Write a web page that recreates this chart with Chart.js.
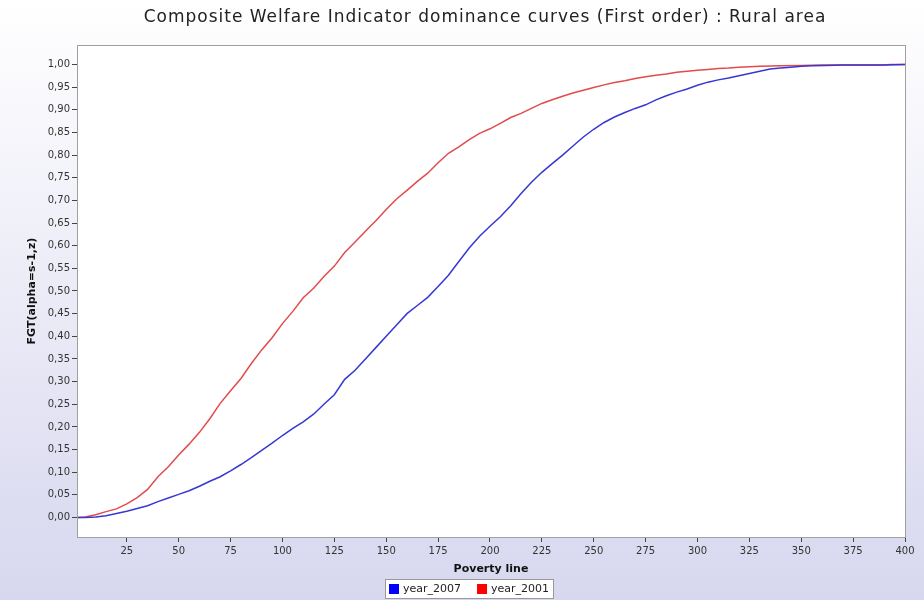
<!DOCTYPE html>
<html>
<head>
<meta charset="utf-8">
<script src="https://cdn.jsdelivr.net/npm/chart.js@4.4.0/dist/chart.umd.min.js"></script>
<style>
  html, body { margin: 0; padding: 0; background: #fff; }
  #wrap { width: 924px; height: 600px; }
</style>
</head>
<body>
<div id="wrap"><canvas id="myChart" width="924" height="600"></canvas></div>
<script>
// data
const seriesNames = ["year_2007", "year_2001"]
const seriesColors = ["rgb(55,55,210)", "rgb(225,75,75)"]

const povertyLine2007 = [1,5,10,15,20,25,30,35,40,45,50,55,60,65,70,75,80,85,90,95,100,105,110,115,120,125,130,135,140,145,150,155,160,165,170,175,180,185,190,195,200,205,210,215,220,225,230,235,240,245,250,255,260,265,270,275,280,285,290,295,300,305,310,315,320,325,330,335,340,345,350,355,362,370,380,390,400]
const fgt2007 = [0,0,0.001,0.004,0.009,0.014,0.02,0.026,0.035,0.043,0.051,0.059,0.069,0.08,0.09,0.103,0.117,0.132,0.148,0.164,0.181,0.197,0.211,0.228,0.25,0.271,0.305,0.325,0.35,0.375,0.4,0.425,0.45,0.468,0.486,0.51,0.535,0.565,0.595,0.621,0.643,0.664,0.688,0.715,0.74,0.762,0.781,0.8,0.82,0.84,0.857,0.872,0.884,0.894,0.903,0.911,0.922,0.931,0.939,0.946,0.954,0.961,0.966,0.97,0.975,0.98,0.985,0.99,0.992,0.994,0.996,0.997,0.998,0.999,0.999,0.999,1]

const povertyLine2001 = [1,5,10,15,20,25,30,35,40,45,50,55,60,65,70,75,80,85,90,95,100,105,110,115,120,125,130,135,140,145,150,155,160,165,170,175,180,185,190,195,200,205,210,215,220,225,230,235,240,245,250,255,260,265,270,275,280,285,290,295,300,305,310,315,320,325,330,340,350,360,375,390,393,400]
const fgt2001 = [0,0.001,0.006,0.013,0.019,0.03,0.044,0.062,0.09,0.112,0.138,0.162,0.188,0.218,0.252,0.28,0.307,0.34,0.37,0.397,0.428,0.455,0.485,0.506,0.532,0.555,0.585,0.608,0.632,0.655,0.68,0.703,0.722,0.742,0.76,0.783,0.804,0.818,0.834,0.848,0.858,0.87,0.883,0.892,0.903,0.914,0.922,0.93,0.937,0.943,0.949,0.955,0.96,0.964,0.969,0.973,0.976,0.979,0.983,0.985,0.987,0.989,0.991,0.992,0.994,0.995,0.996,0.997,0.998,0.999,0.999,0.999,1,1]

const xTicks = [25,50,75,100,125,150,175,200,225,250,275,300,325,350,375,400]
const yTicks = [0,0.05,0.1,0.15,0.2,0.25,0.3,0.35,0.4,0.45,0.5,0.55,0.6,0.65,0.7,0.75,0.8,0.85,0.9,0.95,1]

const titulo = "Composite Welfare Indicator dominance curves (First order) : Rural area"
const tituloX = "Poverty line"
const tituloY = "FGT(alpha=s-1,z)"

function puntos(xs, ys){
    return xs.map((x, i) => ({x: x, y: ys[i]}))
}

// background gradient, white plot area, frame, title and legend box
const fondo = {
    id: "fondo",
    beforeDraw(chart){
        const ctx = chart.ctx
        const g = ctx.createLinearGradient(0, 0, 0, chart.height)
        g.addColorStop(0, "#ffffff")
        g.addColorStop(1, "#d7d7ef")
        ctx.save()
        ctx.fillStyle = g
        ctx.fillRect(0, 0, chart.width, chart.height)
        const a = chart.chartArea
        ctx.fillStyle = "#ffffff"
        ctx.fillRect(a.left, a.top, a.right - a.left, a.bottom - a.top)
        ctx.restore()
    },
    afterDraw(chart){
        const ctx = chart.ctx
        const a = chart.chartArea
        ctx.save()
        ctx.strokeStyle = "#a0a0a0"
        ctx.lineWidth = 1
        ctx.strokeRect(a.left + 0.5, a.top + 0.5, a.right - a.left, a.bottom - a.top)

        // title, a little spaced out like the original
        ctx.font = "17px 'DejaVu Sans'"
        ctx.letterSpacing = "1px"
        ctx.fillStyle = "#222222"
        ctx.textAlign = "center"
        ctx.textBaseline = "middle"
        ctx.fillText(titulo, 485, 18)
        ctx.letterSpacing = "0px"

        ctx.font = "11px 'DejaVu Sans'"
        ctx.textAlign = "left"
        const box = 10, gap = 4, sep = 16
        let total = 0
        const widths = seriesNames.map(n => ctx.measureText(n).width)
        widths.forEach(w => total += box + gap + w)
        total += sep * (seriesNames.length - 1)
        const lw = Math.round(total + 8)
        const lh = 19
        const lx = 385
        const ly = 579
        ctx.fillStyle = "#ffffff"
        ctx.fillRect(lx, ly, lw, lh)
        ctx.strokeStyle = "#999999"
        ctx.strokeRect(lx + 0.5, ly + 0.5, lw, lh)
        let cx = lx + 4
        seriesNames.forEach((n, i) => {
            ctx.fillStyle = i == 0 ? "#0000ff" : "#ff0000"
            ctx.fillRect(cx, ly + 5, box, box)
            cx += box + gap
            ctx.fillStyle = "#222222"
            ctx.fillText(n, cx, ly + lh / 2 + 1)
            cx += widths[i] + sep
        })
        ctx.restore()
    }
}

const config = {
    type: "line",
    data: {
        datasets: [
            {
                label: seriesNames[0],
                data: puntos(povertyLine2007, fgt2007),
                borderColor: seriesColors[0],
                borderWidth: 1.5,
                pointRadius: 0,
                tension: 0,
                fill: false
            },
            {
                label: seriesNames[1],
                data: puntos(povertyLine2001, fgt2001),
                borderColor: seriesColors[1],
                borderWidth: 1.5,
                pointRadius: 0,
                tension: 0,
                fill: false
            }
        ]
    },
    options: {
        responsive: false,
        animation: false,
        layout: { padding: { left: 0, right: 19, top: 45, bottom: 20 } },
        plugins: {
            legend: { display: false },
            tooltip: { enabled: false },
            title: { display: false }
        },
        scales: {
            x: {
                type: "linear",
                min: 1,
                max: 400,
                afterBuildTicks: s => { s.ticks = xTicks.map(v => ({value: v})) },
                afterFit: s => { s.height = 43 },
                border: { color: "#909090" },
                grid: { drawOnChartArea: false, drawTicks: true, tickLength: 5, tickColor: "#444444" },
                ticks: {
                    color: "#333333",
                    padding: 3,
                    maxRotation: 0,
                    font: { family: "'DejaVu Sans'", size: 10 }
                },
                title: {
                    display: true,
                    text: tituloX,
                    color: "#111111",
                    font: { family: "'DejaVu Sans'", size: 11, weight: "bold" },
                    padding: { top: 0, bottom: 4 }
                }
            },
            y: {
                min: -0.043,
                max: 1.043,
                afterBuildTicks: s => { s.ticks = yTicks.map(v => ({value: v})) },
                afterFit: s => { s.width = 77 },
                border: { color: "#909090" },
                grid: { drawOnChartArea: false, drawTicks: true, tickLength: 5, tickColor: "#444444" },
                ticks: {
                    color: "#333333",
                    padding: 2,
                    font: { family: "'DejaVu Sans'", size: 10 },
                    callback: v => v.toFixed(2).replace(".", ",")
                },
                title: {
                    display: true,
                    text: tituloY,
                    color: "#111111",
                    font: { family: "'DejaVu Sans'", size: 11, weight: "bold" },
                    padding: { top: 26, bottom: 0 }
                }
            }
        }
    },
    plugins: [fondo]
}

const chartDOM = document.getElementById("myChart")
window.grafica = new Chart(chartDOM, config)
</script>
</body>
</html>
